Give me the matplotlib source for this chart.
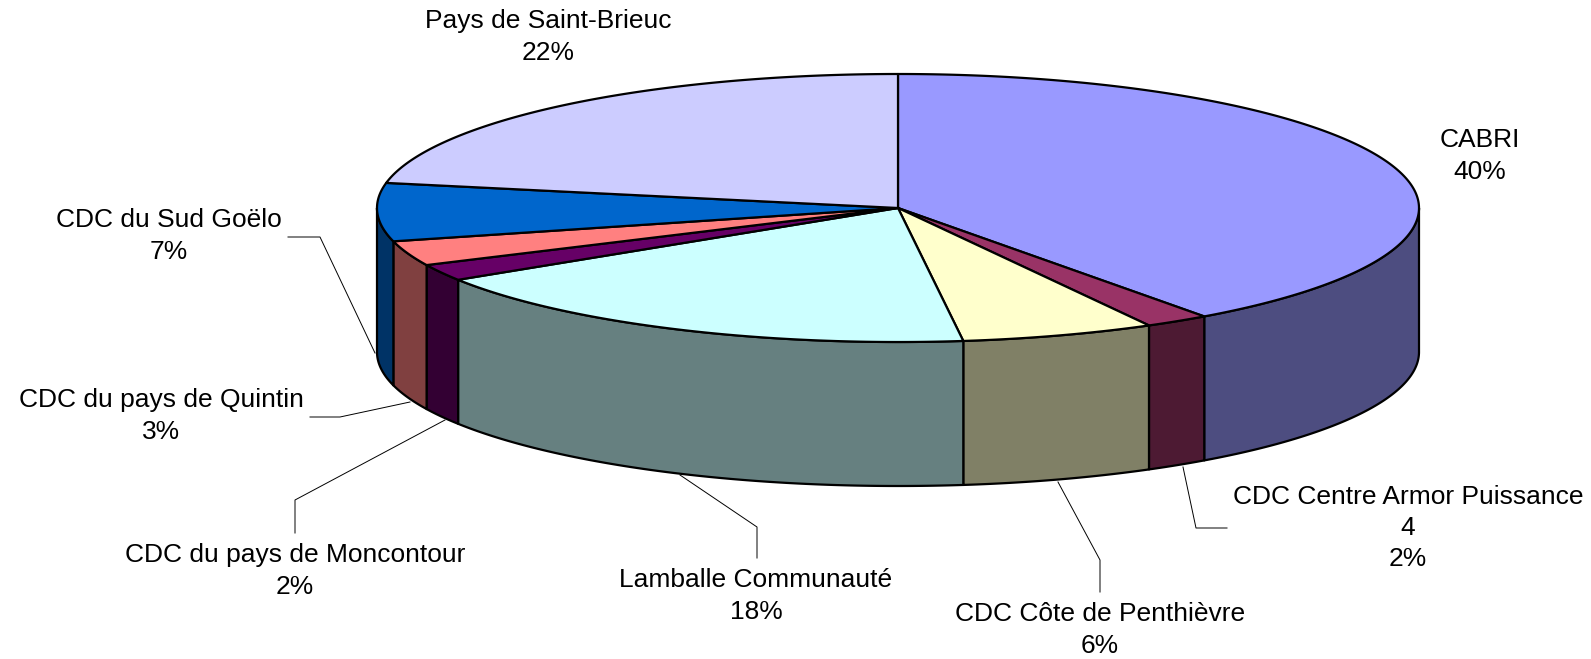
import numpy as np
import matplotlib
matplotlib.use("Agg")
import matplotlib.pyplot as plt
from matplotlib.patches import Polygon

# données (ordre horaire depuis midi)
categories = ["CABRI", "CDC Centre Armor Puissance\n4", "CDC Côte de Penthièvre",
              "Lamballe Communauté", "CDC du pays de Moncontour", "CDC du pays de Quintin",
              "CDC du Sud Goëlo", "Pays de Saint-Brieuc"]
values = [40, 2, 6, 18, 2, 3, 7, 22]
top_colors = ["#9999FF", "#993366", "#FFFFCC", "#CCFFFF", "#660066", "#FF8080", "#0066CC", "#CCCCFF"]
side_colors = ["#4D4D80", "#4D1A33", "#808066", "#668080", "#330033", "#804040", "#003366", "#666680"]

# géométrie du camembert 3D (pixels)
cx, cy = 898, 208
rx, ry = 521, 134
depth = 144

# positions des étiquettes et des traits de rappel
label_pos = [(1480, 156), (1408, 528), (1100, 630), (756, 596),
             (295, 571), (161, 416), (169, 236), (548, 37)]
leaders = [None,
           [(1227, 528), (1196, 528), (1183, 467)],
           [(1100, 592), (1100, 560), (1058, 482)],
           [(757, 558), (757, 527), (680, 475)],
           [(295, 533), (295, 500), (445, 420)],
           [(310, 417), (340, 417), (410, 402)],
           [(288, 237), (320, 237), (375, 353)],
           None]


def pt(theta_deg, dy=0.0):
    t = np.radians(theta_deg)
    return cx + rx * np.sin(t), cy - ry * np.cos(t) + dy


fig = plt.figure(figsize=(15.91, 6.59), dpi=100)
ax = fig.add_axes([0, 0, 1, 1])
ax.set_xlim(0, 1591)
ax.set_ylim(659, 0)
ax.axis("off")

total = sum(values)
bounds = np.concatenate([[0], np.cumsum(values)]) / total * 360

# parois latérales (moitié avant : 90° à 270°)
for i in range(len(values)):
    a0, a1 = max(bounds[i], 90), min(bounds[i + 1], 270)
    if a1 <= a0:
        continue
    th = np.linspace(a0, a1, 200)
    xs, ys = pt(th)
    xb, yb = pt(th[::-1], depth)
    poly = np.column_stack([np.concatenate([xs, xb]), np.concatenate([ys, yb])])
    ax.add_patch(Polygon(poly, closed=True, facecolor=side_colors[i],
                         edgecolor="black", linewidth=1.6, joinstyle="round"))

# dessus
for i in range(len(values)):
    th = np.linspace(bounds[i], bounds[i + 1], 300)
    xs, ys = pt(th)
    poly = np.column_stack([np.concatenate([[cx], xs]), np.concatenate([[cy], ys])])
    ax.add_patch(Polygon(poly, closed=True, facecolor=top_colors[i],
                         edgecolor="black", linewidth=1.6, joinstyle="round"))

# étiquettes
for i, name in enumerate(categories):
    pct = f"{values[i] / total * 100:.0f}%"
    x, y = label_pos[i]
    ax.text(x, y, f"{name}\n{pct}", ha="center", va="center", fontsize=19,
            family=["Liberation Sans", "DejaVu Sans"], linespacing=1.38, color="black")
    if leaders[i] is not None:
        lx, ly = zip(*leaders[i])
        ax.plot(lx, ly, color="black", linewidth=0.7)

fig.savefig("out.png", dpi=100)
